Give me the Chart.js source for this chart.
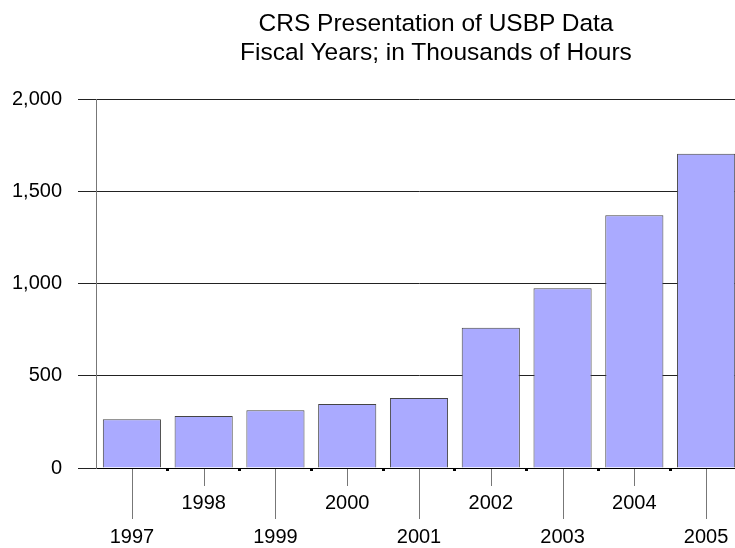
<!DOCTYPE html>
<html>
<head>
<meta charset="utf-8">
<script src="https://cdn.jsdelivr.net/npm/chart.js@4"></script>
<style>
  body { margin: 0; background: #fff; }
  #wrap { position: relative; width: 735px; height: 548px; overflow: hidden; }
  #title {
    position: absolute; left: 0; top: 8px; width: 872px;
    text-align: center; font: 24.5px "Liberation Sans", Arial, sans-serif;
    line-height: 29px; color: #000;
  }
  #box { position: absolute; left: 0; top: 0; width: 745px; height: 548px; }
</style>
</head>
<body>
<div id="wrap">
  <div id="box"><canvas id="chart" width="745" height="548"></canvas></div>
  <div id="title">CRS Presentation of USBP Data<br>Fiscal Years; in Thousands of Hours</div>
</div>
<script>
// data (thousands of hours)
const years = ["1997", "1998", "1999", "2000", "2001", "2002", "2003", "2004", "2005"];
const hours = [264, 282, 313, 347, 379, 760, 974, 1370, 1703];
const yTicks = [0, 500, 1000, 1500, 2000];

// long tick lines from the axis down to the staggered labels
const tickLines = {
  id: "tickLines",
  afterDraw(chart) {
    const ctx = chart.ctx;
    const x = chart.scales.x;
    const base = chart.chartArea.bottom;
    ctx.save();
    ctx.strokeStyle = "#777";
    ctx.lineWidth = 1;
    years.forEach((y, i) => {
      const px = Math.round(x.getPixelForValue(i)) + 0.5;
      ctx.beginPath();
      ctx.moveTo(px, base + 1);
      ctx.lineTo(px, base + (i % 2 === 0 ? 51 : 18));
      ctx.stroke();
    });
    ctx.restore();
  }
};

new Chart(document.getElementById("chart").getContext("2d"), {
  type: "bar",
  data: {
    labels: years,
    datasets: [{
      data: hours,
      backgroundColor: "#aaaaff",
      borderColor: "#444",
      borderWidth: 1,
      barPercentage: 0.81,
      categoryPercentage: 1
    }]
  },
  options: {
    responsive: false,
    animation: false,
    layout: { padding: { top: 99, right: 3, left: 0, bottom: 0 } },
    plugins: { legend: { display: false }, tooltip: { enabled: false }, title: { display: false } },
    scales: {
      x: {
        afterFit(s) { s.height = 80; },
        grid: {
          offset: true,
          drawOnChartArea: false,
          tickLength: 3,
          tickWidth: 3,
          tickColor: (c) => (c.index === 0 || c.index === years.length) ? "rgba(0,0,0,0)" : "#000"
        },
        border: { color: "#000", width: 1 },
        ticks: {
          color: "#000",
          padding: 16,
          maxRotation: 0,
          autoSkip: false,
          font: { family: "'Liberation Sans', Arial, sans-serif", size: 20, lineHeight: 1.68 },
          callback: (v, i) => i % 2 === 0 ? ["", years[i]] : [years[i]]
        }
      },
      y: {
        min: 0,
        max: 2000,
        afterFit(s) { s.width = 96; },
        afterBuildTicks(s) { s.ticks = yTicks.map(v => ({ value: v })); },
        grid: { color: "#222", tickLength: 18, tickColor: "#222" },
        border: { color: "#777", width: 1 },
        ticks: {
          color: "#000",
          padding: 16,
          font: { family: "'Liberation Sans', Arial, sans-serif", size: 20 },
          callback: (v) => v.toLocaleString("en-US")
        }
      }
    }
  },
  plugins: [tickLines]
});
</script>
</body>
</html>
